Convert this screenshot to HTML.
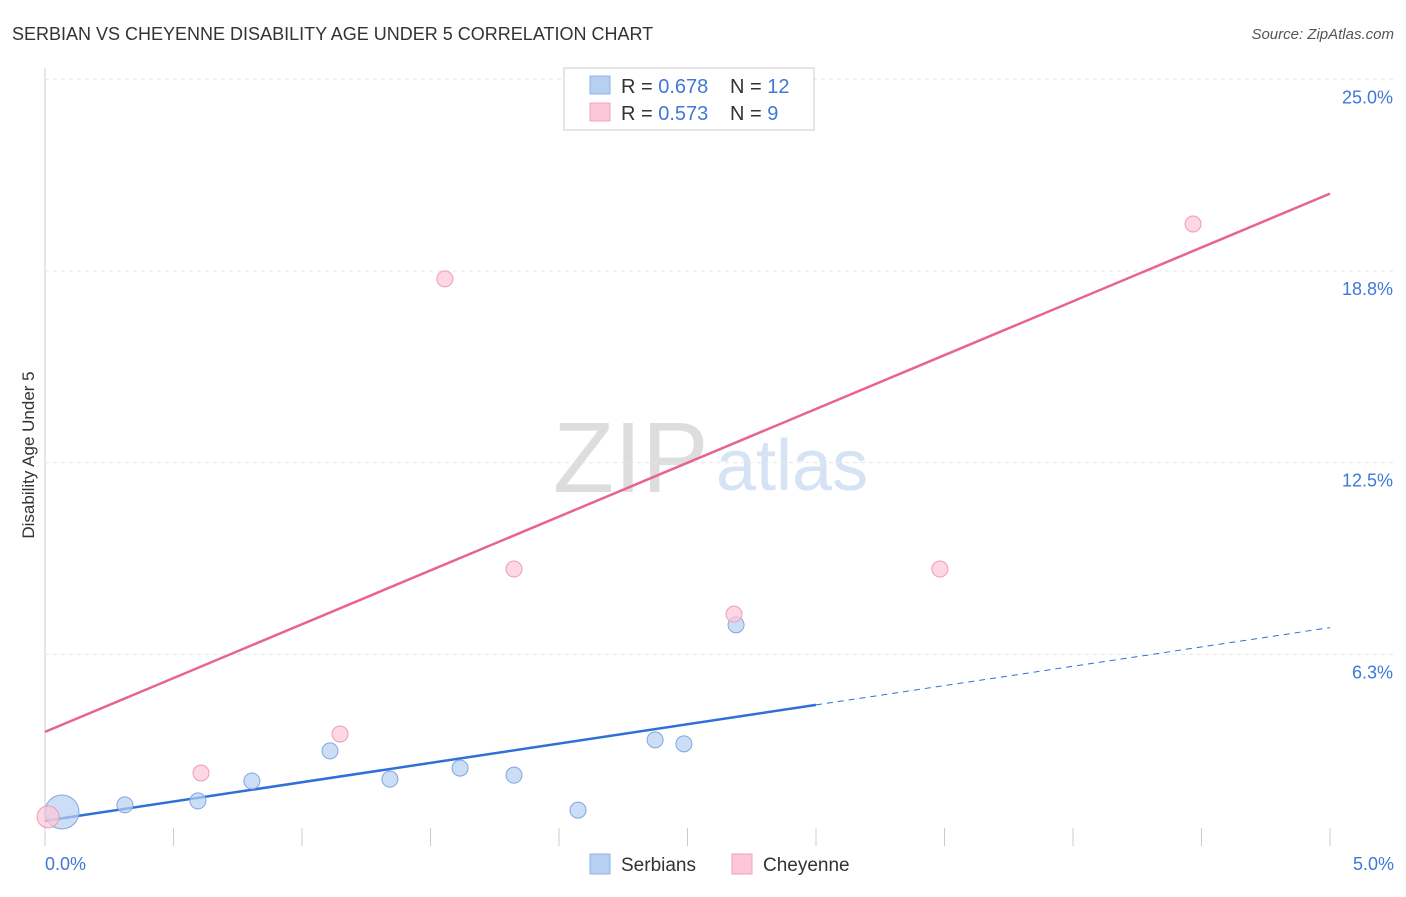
<!DOCTYPE html>
<html><head><meta charset="utf-8"><style>
body{margin:0;background:#fff;font-family:"Liberation Sans",sans-serif;}
svg text{font-family:"Liberation Sans",sans-serif;}
</style></head><body>
<svg id="chart" width="1406" height="892">
<text x="12" y="40" font-size="18" fill="#333">SERBIAN VS CHEYENNE DISABILITY AGE UNDER 5 CORRELATION CHART</text>
<text x="1394" y="39" font-size="15" fill="#555" font-style="italic" text-anchor="end">Source: ZipAtlas.com</text>
<text x="34" y="455" font-size="17" fill="#333" text-anchor="middle" transform="rotate(-90 34 455)">Disability Age Under 5</text>
<text x="553" y="492" font-size="100" fill="#ddd" font-family="Liberation Serif">ZIP</text>
<text x="716" y="490" font-size="72" fill="#d6e3f5">atlas</text>
<g id="grid"></g><g id="lines"></g><g id="pts"></g>
<g>
<rect x="564" y="68" width="250" height="62" fill="#fff" stroke="#ccc"/>
<rect x="590" y="76" width="20" height="18" fill="#b7d0f2" stroke="#8fb2e6"/>
<rect x="590" y="103" width="20" height="18" fill="#fcc8d8" stroke="#f3a2ba"/>
<text x="621" y="93" font-size="20" fill="#333">R = <tspan fill="#3f78d8">0.678</tspan></text>
<text x="730" y="93" font-size="20" fill="#333">N = <tspan fill="#3f78d8">12</tspan></text>
<text x="621" y="120" font-size="20" fill="#333">R = <tspan fill="#3f78d8">0.573</tspan></text>
<text x="730" y="120" font-size="20" fill="#333">N = <tspan fill="#3f78d8"> 9</tspan></text>
</g>
<g>
<rect x="590" y="854" width="20" height="20" fill="#b7d0f2" stroke="#8fb2e6"/>
<text x="621" y="871" font-size="19" fill="#333">Serbians</text>
<rect x="732" y="854" width="20" height="20" fill="#fcc8d8" stroke="#f3a2ba"/>
<text x="763" y="871" font-size="19" fill="#333">Cheyenne</text>
</g>
</svg>
<script>
const xTicks=[0,0.5,1,1.5,2,2.5,3,3.5,4,4.5,5];
const yTicks=[6.25,12.5,18.75,25];
const yTickLabels=["6.3%","12.5%","18.8%","25.0%"];
const serbX=[0.066,0.311,0.595,0.805,1.109,1.342,1.615,1.825,2.074,2.374,2.486,2.689];
const serbY=[1.11,1.34,1.47,2.12,3.10,2.18,2.54,2.31,1.17,3.46,3.33,7.21];
const cheyX=[0.012,0.607,1.148,1.556,1.825,2.681,3.482,4.467];
const cheyY=[0.95,2.38,3.65,18.49,9.03,7.56,9.03,20.28];
const serbLine=[0.82,1.26]; const cheyLine=[3.72,3.51];
const NS="http://www.w3.org/2000/svg";
const X=v=>45+v*257, Y=v=>846-v*30.67;
function mk(t,a,p){const e=document.createElementNS(NS,t);for(const k in a)e.setAttribute(k,a[k]);p.appendChild(e);return e;}
const g=document.getElementById('grid');
mk('line',{x1:45,y1:68,x2:45,y2:846,stroke:'#ccc'},g);
yTicks.forEach((t,i)=>{
 const l=mk('line',{x1:45,y1:Y(t),x2:1395,y2:Y(t),stroke:'#e6e6e6','stroke-dasharray':'4,4'},g);
 
 const tx=mk('text',{x:1393,y:Y(t)+24,'font-size':18,fill:'#3f78d8','text-anchor':'end'},g);tx.textContent=yTickLabels[i];
 
});
xTicks.forEach((t,i)=>{if(i>0){const l=mk('line',{x1:X(t),y1:828,x2:X(t),y2:846,stroke:'#ccc'},g);
 }});
[[0,"0.0%","start",45],[5,"5.0%","end",1394]].forEach(a=>{const tx=mk('text',{x:a[3],y:870,'font-size':18,fill:'#3f78d8','text-anchor':a[2]},g);tx.textContent=a[1];
 });
const L=document.getElementById('lines');
let e=mk('line',{x1:X(0),y1:Y(cheyLine[0]),x2:X(5),y2:Y(cheyLine[0]+5*cheyLine[1]),stroke:'#e8648e','stroke-width':2.5},L);

e=mk('line',{x1:X(0),y1:Y(serbLine[0]),x2:X(3),y2:Y(serbLine[0]+3*serbLine[1]),stroke:'#2f6fd6','stroke-width':2.5},L);

e=mk('line',{x1:X(3),y1:Y(serbLine[0]+3*serbLine[1]),x2:X(5),y2:Y(serbLine[0]+5*serbLine[1]),stroke:'#2f6fd6','stroke-width':1,'stroke-dasharray':'6,5'},L);

const P=document.getElementById('pts');
serbX.forEach((v,i)=>{const c=mk('circle',{cx:X(v),cy:Y(serbY[i]),r:i==0?17:8,fill:'#b7d0f2','fill-opacity':0.7,stroke:'#7fa6e0'},P);
 });
cheyX.forEach((v,i)=>{const c=mk('circle',{cx:X(v),cy:Y(cheyY[i]),r:i==0?11:8,fill:'#fcc8d8','fill-opacity':0.7,stroke:'#f09ab5'},P);
 });
</script>
</body></html>
